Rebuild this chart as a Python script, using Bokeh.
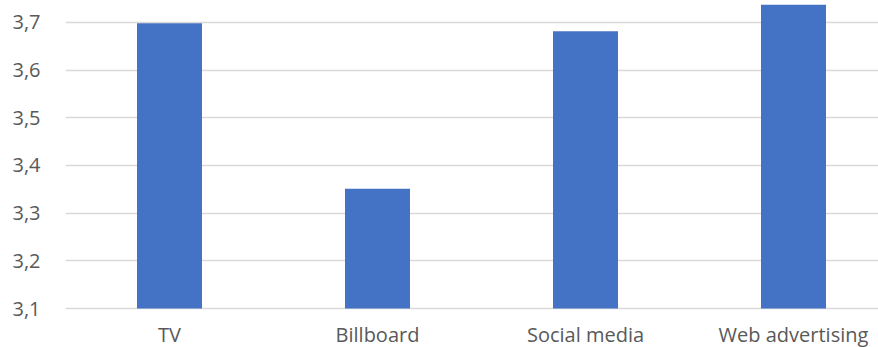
from bokeh.plotting import figure
from bokeh.models import Range1d, FixedTicker, CustomJSTickFormatter, ColumnDataSource
from bokeh.core.properties import value
from bokeh.embed import file_html
from bokeh.resources import INLINE

categories = ["TV", "Billboard", "Social media", "Web advertising"]
values = [3.698, 3.351, 3.681, 3.737]
y_ticks = [3.1, 3.2, 3.3, 3.4, 3.5, 3.6, 3.7]
base = 3.1

W, H = 878, 347
left = 65
px_per_unit_y = 477.0
px_per_cat = 208.0
base_px_from_top = 308.0
frame_w = W - left

y_start = base - (H - base_px_from_top) / px_per_unit_y
y_end = base + base_px_from_top / px_per_unit_y

p = figure(width=W, height=H, output_backend="svg", toolbar_location=None,
           x_range=Range1d(-0.5, -0.5 + frame_w / px_per_cat),
           y_range=Range1d(y_start, y_end),
           x_axis_type=None,
           min_border_left=left, min_border_right=0, min_border_top=0,
           min_border_bottom=0)
p.outline_line_color = None
p.background_fill_color = "white"
p.border_fill_color = "white"

xs = list(range(len(categories)))
src = ColumnDataSource(dict(x=xs, top=values, label=categories))

p.ygrid.grid_line_color = "#d9d9d9"
p.ygrid.grid_line_width = 1.6
p.ygrid.ticker = FixedTicker(ticks=y_ticks)
p.ygrid.level = "underlay"
p.xgrid.grid_line_color = None

p.vbar(x="x", top="top", bottom=base, width=0.3125, source=src,
       fill_color="#4472C4", line_color=None)

p.text(x="x", y=base, text="label", source=src, y_offset=26,
       text_align="center", text_baseline="alphabetic",
       text_font=value("Open Sans"), text_font_size=value("20px"),
       text_color="#595959")

ax = p.yaxis[0]
ax.ticker = FixedTicker(ticks=y_ticks)
ax.formatter = CustomJSTickFormatter(code="return tick.toFixed(1).replace('.', ',');")
ax.axis_line_color = None
ax.major_tick_line_color = None
ax.minor_tick_line_color = None
ax.major_tick_out = 0
ax.major_tick_in = 0
ax.major_label_text_font = "Open Sans"
ax.major_label_text_font_size = "20px"
ax.major_label_text_color = "#595959"
ax.major_label_standoff = 25

open("out.html", "w").write(file_html(p, INLINE))
